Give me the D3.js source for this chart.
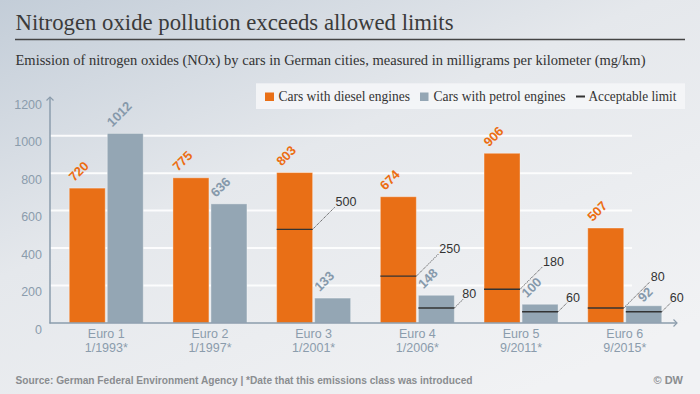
<!DOCTYPE html>
<html>
<head>
<meta charset="utf-8">
<script src="https://cdn.jsdelivr.net/npm/d3@7"></script>
<style>
  html, body { margin: 0; padding: 0; background: #eef0f2; }
  svg { display: block; }
</style>
</head>
<body>
<svg id="chart" width="700" height="394"></svg>
<script>
// ---- Data ----
const categories = ["Euro 1", "Euro 2", "Euro 3", "Euro 4", "Euro 5", "Euro 6"];
const introDates = ["1/1993*", "1/1997*", "1/2001*", "1/2006*", "9/2011*", "9/2015*"];
const dieselValues = [720, 775, 803, 674, 906, 507];
const petrolValues = [1012, 636, 133, 148, 100, 92];
const dieselLimits = [null, null, 500, 250, 180, 80];
const petrolLimits = [null, null, null, 80, 60, 60];
const yTicks = [0, 200, 400, 600, 800, 1000, 1200];
const gridTicks = [200, 400, 600, 800, 1000];
const seriesKeys = ["diesel", "petrol"];
const legendLabels = ["Cars with diesel engines", "Cars with petrol engines", "Acceptable limit"];

const titleText = "Nitrogen oxide pollution exceeds allowed limits";
const subtitleText = "Emission of nitrogen oxides (NOx) by cars in German cities, measured in milligrams per kilometer (mg/km)";
const footerText = "Source: German Federal Environment Agency | *Date that this emissions class was introduced";
const creditText = "\u00A9 DW";

// ---- Styles ----
const ORANGE = "#e96f16";
const GREY = "#94a6b4";
const AXIS = "#8b9cac";
const DARK = "#333333";
const SANS = "'Liberation Sans', Arial, Helvetica, sans-serif";
const SERIF = "'Liberation Serif', Georgia, 'Times New Roman', serif";

const svg = d3.select("#chart");

// background gradient
const defs = svg.append("defs");
const grad = defs.append("linearGradient").attr("id", "bg")
  .attr("x1", "0").attr("y1", "0").attr("x2", "0.75").attr("y2", "1");
grad.append("stop").attr("offset", "0%").attr("stop-color", "#c3cdd8");
grad.append("stop").attr("offset", "45%").attr("stop-color", "#e5e8ec");
grad.append("stop").attr("offset", "100%").attr("stop-color", "#f1f2f4");
svg.append("rect").attr("width", 700).attr("height", 394).attr("fill", "url(#bg)");

// ---- Title block ----
svg.append("text").attr("x", 15.5).attr("y", 30)
  .attr("font-family", SERIF).attr("font-size", 23).attr("fill", "#3b3b3b")
  .attr("textLength", 438).attr("lengthAdjust", "spacingAndGlyphs")
  .text(titleText);
svg.append("line").attr("x1", 15).attr("x2", 685).attr("y1", 39.5).attr("y2", 39.5)
  .attr("stroke", "#444").attr("stroke-width", 1.6);
svg.append("text").attr("x", 15.5).attr("y", 65)
  .attr("font-family", SERIF).attr("font-size", 15).attr("fill", "#333")
  .attr("textLength", 630).attr("lengthAdjust", "spacingAndGlyphs")
  .text(subtitleText);

// ---- Scales ----
const y = d3.scaleLinear().domain([0, 1200]).range([323, 98.2]);
const x = d3.scaleBand().domain(categories).range([54.4, 676.6]).padding(0);
const groupW = 74;
const xs = d3.scaleBand().domain(seriesKeys).range([0, groupW]).paddingInner(4 / 74).paddingOuter(0);
const center = c => x(c) + x.bandwidth() / 2;
const barX = (c, k) => center(c) - groupW / 2 + xs(k);

// a diesel limit that lies below the petrol bar top forces its leader to cross the petrol label
const crowded = i => dieselLimits[i] != null && dieselLimits[i] < petrolValues[i] + 20;

// ---- Gridlines ----
svg.append("g").selectAll("line").data(gridTicks).join("line")
  .attr("x1", 50).attr("x2", 632)
  .attr("y1", d => y(d)).attr("y2", d => y(d))
  .attr("stroke", "#ffffff").attr("stroke-width", 2).attr("opacity", 0.9);

// ---- Y axis ----
const yAxis = d3.axisLeft(y).tickValues(yTicks).tickSize(0).tickPadding(8).tickFormat(d3.format("d"));
const yg = svg.append("g").attr("transform", "translate(50,0)").call(yAxis);
yg.select(".domain").remove();
yg.selectAll("text").attr("font-family", SANS).attr("font-size", 12.5)
  .attr("fill", AXIS).attr("dy", "10").attr("x", -8);

// ---- X axis labels ----
const xAxis = d3.axisBottom(x).tickSize(0).tickFormat(() => "");
const xg = svg.append("g").attr("transform", "translate(0,323)").call(xAxis);
xg.select(".domain").remove();
xg.selectAll(".tick").each(function (c) {
  const t = d3.select(this).append("text")
    .attr("font-family", SANS).attr("font-size", 12.5).attr("fill", AXIS)
    .attr("text-anchor", "middle");
  t.append("tspan").attr("x", 0).attr("y", 14.7).text(c);
  t.append("tspan").attr("x", 0).attr("y", 28.7).text(introDates[categories.indexOf(c)]);
});

// ---- Bars ----
const series = [
  { key: "diesel", color: ORANGE, label: "#ec6d12", values: dieselValues, limits: dieselLimits, leader: 22 },
  { key: "petrol", color: GREY, label: "#8699ab", values: petrolValues, limits: petrolLimits, leader: 9 }
];

series.forEach(s => {
  const g = svg.append("g");
  g.selectAll("rect").data(categories).join("rect")
    .attr("x", c => barX(c, s.key))
    .attr("width", xs.bandwidth())
    .attr("y", (c, i) => y(s.values[i]))
    .attr("height", (c, i) => y(0) - y(s.values[i]))
    .attr("fill", s.color)
    .attr("stroke", "rgba(255,255,255,0.35)").attr("stroke-width", 1);

  // value labels (rotated)
  g.selectAll("text.val").data(categories).join("text").attr("class", "val")
    .attr("transform", (c, i) => {
      const shift = (s.key === "petrol" && crowded(i)) ? 12.5 : 0;
      const lift = (s.key === "petrol" && crowded(i)) ? -3 : -6;
      return `translate(${barX(c, s.key) + 5 + shift},${y(s.values[i]) + lift}) rotate(-45)`;
    })
    .attr("font-family", SANS).attr("font-size", 13).attr("font-weight", "bold")
    .attr("fill", s.label)
    .text((c, i) => s.values[i]);
});

// ---- Limit lines ----
series.forEach(s => {
  const data = categories.map((c, i) => ({
    c, v: s.limits[i],
    len: (s.key === "diesel" && crowded(i)) ? 26 : s.leader
  })).filter(d => d.v != null);
  const g = svg.append("g");
  g.selectAll("line.lim").data(data).join("line").attr("class", "lim")
    .attr("x1", d => barX(d.c, s.key)).attr("x2", d => barX(d.c, s.key) + xs.bandwidth())
    .attr("y1", d => y(d.v)).attr("y2", d => y(d.v))
    .attr("stroke", DARK).attr("stroke-width", 1.4);
  g.selectAll("line.lead").data(data).join("line").attr("class", "lead")
    .attr("x1", d => barX(d.c, s.key) + xs.bandwidth()).attr("y1", d => y(d.v))
    .attr("x2", d => barX(d.c, s.key) + xs.bandwidth() + d.len).attr("y2", d => y(d.v) - d.len)
    .attr("stroke", DARK).attr("stroke-width", 0.8).attr("stroke-dasharray", "1.2,0.8");
  g.selectAll("text.limt").data(data).join("text").attr("class", "limt")
    .attr("x", d => barX(d.c, s.key) + xs.bandwidth() + d.len + (s.key === "petrol" ? -1 : 1))
    .attr("y", d => y(d.v) - d.len - 1)
    .attr("font-family", SANS).attr("font-size", 12.5).attr("fill", DARK)
    .text(d => d.v);
});

// ---- Axis lines with arrows ----
svg.append("line").attr("x1", 50).attr("x2", 50).attr("y1", 323.5).attr("y2", 97)
  .attr("stroke", AXIS).attr("stroke-width", 1.5);
svg.append("path").attr("d", "M46.5,100.5 L50,97 L53.5,100.5")
  .attr("fill", "none").attr("stroke", AXIS).attr("stroke-width", 1.2);
svg.append("line").attr("x1", 49.5).attr("x2", 677).attr("y1", 323).attr("y2", 323)
  .attr("stroke", AXIS).attr("stroke-width", 1.5);
svg.append("path").attr("d", "M673.5,319.5 L677,323 L673.5,326.5")
  .attr("fill", "none").attr("stroke", AXIS).attr("stroke-width", 1.2);

// ---- Legend ----
const lg = svg.append("g");
lg.append("rect").attr("x", 256).attr("y", 83.3).attr("width", 429).attr("height", 25.7)
  .attr("fill", "#f4f5f7").attr("opacity", 0.92);
lg.append("rect").attr("x", 265).attr("y", 92.5).attr("width", 9).attr("height", 8.5).attr("fill", ORANGE);
lg.append("rect").attr("x", 420).attr("y", 92.5).attr("width", 8.5).attr("height", 8.5).attr("fill", GREY);
lg.append("line").attr("x1", 576).attr("x2", 585).attr("y1", 96.5).attr("y2", 96.5)
  .attr("stroke", DARK).attr("stroke-width", 2);
const legX = [278.5, 433.5, 588.5];
const legW = [131.5, 132, 88];
lg.selectAll("text").data(legendLabels).join("text")
  .attr("x", (d, i) => legX[i]).attr("y", 101)
  .attr("font-family", SERIF).attr("font-size", 14).attr("fill", DARK)
  .attr("textLength", (d, i) => legW[i]).attr("lengthAdjust", "spacingAndGlyphs")
  .text(d => d);

// ---- Footer ----
svg.append("text").attr("x", 15.5).attr("y", 383.5)
  .attr("font-family", "'Liberation Sans Narrow', 'Arial Narrow', " + SANS)
  .attr("font-size", 11).attr("font-weight", "bold").attr("fill", "#8a8d90")
  .attr("textLength", 457).attr("lengthAdjust", "spacingAndGlyphs")
  .text(footerText);
svg.append("text").attr("x", 683).attr("y", 383.5).attr("text-anchor", "end")
  .attr("font-family", SANS).attr("font-size", 11).attr("font-weight", "bold").attr("fill", "#8a8d90")
  .text(creditText);
</script>
</body>
</html>
